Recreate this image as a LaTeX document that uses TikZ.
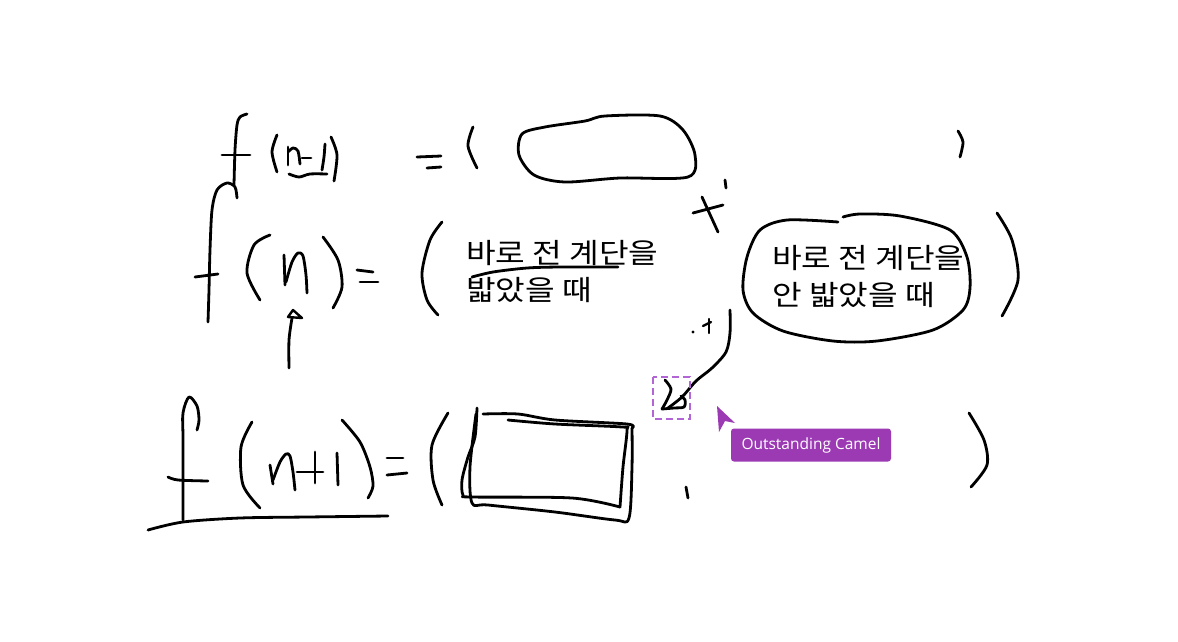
\documentclass[tikz,border=0pt]{standalone}
\usepackage{fontspec}
\newfontfamily\kr[FakeStretch=1.15]{Noto Sans CJK KR}
\newfontfamily\ui{Open Sans}
\definecolor{camel}{HTML}{9C3AB4}
\definecolor{selbox}{HTML}{B266D6}
\begin{document}
\begin{tikzpicture}[x=1pt,y=-1pt,
  ink/.style={line width=2.8pt, line cap=round, line join=round, black},
  krtext/.style={anchor=base west, inner sep=0, font=\kr\fontsize{28}{36}\selectfont},
  lbl/.style={fill=camel, rounded corners=3pt, text=white, inner sep=0,
    font=\ui\fontsize{15.5}{18}\selectfont, minimum width=160pt, minimum height=33pt}]
\useasboundingbox (0,0) rectangle (1178,641);
\fill[white] (0,0) rectangle (1178,641);

% ---------- row 1 : f(n-1) = ( ... )
\draw[ink] plot[smooth] coordinates {(234,185) (235,150) (237,125) (240,117) (247,114)};
\draw[ink] (222,155) -- (250,155);
\draw[ink] plot[smooth] coordinates {(277,135) (272,152) (277,172)};
\draw[ink] plot[smooth] coordinates {(288,147) (288,165)};
\draw[ink] plot[smooth] coordinates {(288,152) (293,148) (298,151) (300,164)};
\draw[ink] (302,158) -- (311,158);
\draw[ink] plot[smooth] coordinates {(325,144) (324,157) (322,170)};
\draw[ink] plot[smooth] coordinates {(289,174) (299,177) (310,174) (327,174)};
\draw[ink] plot[smooth] coordinates {(331,137) (337,155) (334,181)};
\draw[ink] (417,157) -- (441,156);
\draw[ink] (427,168) -- (441,167);
\draw[ink] plot[smooth] coordinates {(473,127) (468,146) (477,168)};
\draw[ink] plot[smooth cycle] coordinates {(522,134) (545,127) (585,121) (605,116) (660,116) (683,130) (695,155) (688,177) (620,178) (565,182) (534,175) (519,155)};
\draw[ink] plot[smooth] coordinates {(958,131) (963,142) (960,157)};

% ---------- row 2 : f(n) = ( text + text )
\draw[ink] plot[smooth] coordinates {(208,322) (209,290) (210,250) (212,210) (217,190) (227,183) (235,187) (237,198)};
\draw[ink] (195,277) -- (218,274);
\draw[ink] plot[smooth] coordinates {(270,235) (254,245) (247,273) (260,300)};
\draw[ink] (284,255) -- (285,285);
\draw[ink] plot[smooth] coordinates {(286,282) (292,262) (298,253) (303,256) (306,275) (307,293)};
\draw[ink] plot[smooth] coordinates {(323,237) (338,260) (342,287) (333,308)};
\draw[ink] (357,270) -- (373,272);
\draw[ink] (360,282) -- (378,282);
\draw[ink] plot[smooth] coordinates {(442,222) (430,240) (422,273) (427,300) (438,315)};
% arrow up to n
\draw[ink] plot[smooth] coordinates {(289,368) (289,340) (292,318)};
\draw[line width=2.4pt, line join=round] (288,317) -- (293,310) -- (302,318) -- cycle;

\node[krtext] (t1a) at (466,263) {바로 전 계단을};
\node[krtext] (t1b) at (466,300) {밟았을 때};
\draw[ink] plot[smooth] coordinates {(472,277) (493,272) (527,268) (560,267) (618,267)};

% small x and ticks
\draw[ink] (693,213) -- (723,205);
\draw[ink] (702,197) -- (718,232);
\draw[ink] (725,180) -- (726,188);
\fill (693,332) circle (1.6pt);
\draw[line width=2.4pt, line cap=round] (703,326) -- (711,322);
\draw[line width=2.4pt, line cap=round] (709,319) -- (709,333);

% oval around second text
\draw[ink] plot[smooth] coordinates {(838,222) (787,220) (760,230) (747,257) (743,290) (753,313) (783,331) (833,341) (877,341) (933,330) (963,310) (970,288) (967,257) (950,230) (900,216) (860,214) (843,217)};
\node[krtext] (t2a) at (772,268) {바로 전 계단을};
\node[krtext] (t2b) at (772,305) {안 밟았을 때};
\draw[ink] plot[smooth] coordinates {(997,213) (1012,240) (1018,280) (1002,316)};

% curved arrow into selection
\draw[ink] plot[smooth] coordinates {(730,310) (730,333) (726,352) (712,368) (696,381) (682,397) (668,408)};
\draw[ink] plot[smooth] coordinates {(665,380) (671,389) (667,400) (662,409)};
\draw[ink] plot[smooth] coordinates {(662,409) (674,408) (684,407) (685,400) (681,396)};
\draw[selbox, line width=1.2pt, dash pattern=on 7pt off 4pt] (653,377) rectangle (690,419);

% cursor + label
\fill[camel] (717,406) -- (719,432) -- (725,421) -- (735,423) -- cycle;
\node[lbl] (camel) at (811,445) {Outstanding Camel};
\draw[ink] (686,487) -- (688,498);

% ---------- row 3 : f(n+1) = ( box )
\draw[ink] plot[smooth] coordinates {(183,520) (183,440) (183,413) (189,397) (197,406) (199,420) (197,430)};
\draw[ink] plot[smooth] coordinates {(168,477) (178,480) (208,481)};
\draw[ink] plot[smooth] coordinates {(148,530) (183,522) (240,518) (307,517) (388,516)};
\draw[ink] plot[smooth] coordinates {(252,422) (241,447) (243,485) (260,508)};
\draw[ink] (270,465) -- (273,484);
\draw[ink] plot[smooth] coordinates {(273,480) (280,462) (286,454) (290,456) (293,472) (295,490)};
\draw[ink] (297,472) -- (323,472);
\draw[ink] (315,452) -- (315,483);
\draw[ink] (337,453) -- (338,485);
\draw[ink] plot[smooth] coordinates {(342,420) (360,442) (370,467) (373,486) (368,498)};
\draw[ink] (387,458) -- (403,458);
\draw[ink] (387,475) -- (407,473);
\draw[ink] plot[smooth] coordinates {(448,413) (432,445) (433,480) (442,505)};
% double rectangle
\draw[ink] plot[smooth] coordinates {(477,408) (475,437) (468,457) (462,480) (463,495) (472,497) (572,498) (620,507)};
\draw[ink] plot[smooth] coordinates {(620,507) (623,467) (627,430) (622,427) (555,424) (508,420)};
\draw[ink] plot[smooth] coordinates {(483,414) (518,414) (555,420) (627,424) (632,428)};
\draw[ink] plot[smooth] coordinates {(632,428) (632,467) (629,518) (615,520) (555,512) (488,505) (472,503) (470,467) (476,414)};
\draw[ink] plot[smooth] coordinates {(969,413) (984,440) (987,465) (971,487)};
\end{tikzpicture}
\end{document}
